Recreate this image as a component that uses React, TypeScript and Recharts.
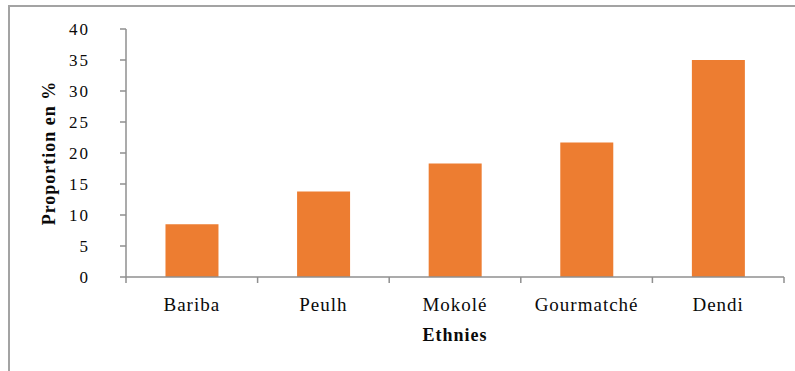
import React from "react";
import { BarChart, Bar, XAxis, YAxis } from "recharts";

const ethnies = ["Bariba", "Peulh", "Mokolé", "Gourmatché", "Dendi"];
const proportions = [8.5, 13.8, 18.3, 21.7, 35];
const yTicks = [0, 5, 10, 15, 20, 25, 30, 35, 40];

const data = ethnies.map((name, i) => ({ name, value: proportions[i] }));

const AXIS = "#8f8f8f";
const TEXT = "#0a0a0a";
const FONT = "Liberation Serif";
const X_TICK_SIZE = 6;
const X_TICK_MARGIN = 15;

// category labels, with tick marks drawn on the band boundaries (Excel style)
function CategoryTick(props: any) {
  const { x, y, payload, index, width, visibleTicksCount } = props;
  const band = width / visibleTicksCount;
  const axisY = y - X_TICK_MARGIN - X_TICK_SIZE;
  const left = x - band / 2;
  const right = x + band / 2;
  return (
    <g>
      <line x1={left} y1={axisY} x2={left} y2={axisY + X_TICK_SIZE} stroke={AXIS} strokeWidth={1.5} />
      {index === visibleTicksCount - 1 && (
        <line x1={right} y1={axisY} x2={right} y2={axisY + X_TICK_SIZE} stroke={AXIS} strokeWidth={1.5} />
      )}
      <text
        x={x}
        y={y}
        dy="0.71em"
        textAnchor="middle"
        fill={TEXT}
        fontFamily={FONT}
        fontSize={19}
        letterSpacing={1}
      >
        {payload.value}
      </text>
    </g>
  );
}

export default function App() {
  return (
    <div style={{ position: "absolute", left: 0, top: 0, width: 795, height: 371, background: "#fff" }}>
      <div
        style={{
          position: "absolute",
          left: 8,
          top: 5,
          right: 0,
          bottom: 0,
          borderTop: "2px solid #a3a3a3",
          borderLeft: "2px solid #a3a3a3",
        }}
      />
      <BarChart
        width={795}
        height={371}
        data={data}
        margin={{ top: 29, right: 11, left: 0, bottom: 0 }}
        barCategoryGap="30%"
        style={{ position: "absolute", left: 0, top: 0 }}
      >
        <XAxis
          dataKey="name"
          height={94}
          stroke={AXIS}
          strokeWidth={1.5}
          tickLine={false}
          tickSize={X_TICK_SIZE}
          tickMargin={X_TICK_MARGIN}
          tick={<CategoryTick />}
          interval={0}
          label={{
            value: "Ethnies",
            position: "insideBottom",
            offset: 30,
            fill: TEXT,
            fontFamily: FONT,
            fontSize: 18,
            fontWeight: "bold",
            letterSpacing: 1,
          }}
        />
        <YAxis
          width={126}
          domain={[0, 40]}
          ticks={yTicks}
          interval={0}
          stroke={AXIS}
          strokeWidth={1.5}
          tickSize={6}
          tickMargin={30}
          tick={{ fill: TEXT, fontFamily: FONT, fontSize: 17, letterSpacing: 2 }}
          label={{
            value: "Proportion  en %",
            angle: -90,
            position: "insideLeft",
            offset: 49,
            fill: TEXT,
            fontFamily: FONT,
            fontSize: 18,
            fontWeight: "bold",
            letterSpacing: 1,
            style: { textAnchor: "middle", whiteSpace: "pre" },
          }}
        />
        <Bar dataKey="value" fill="#ED7D31" isAnimationActive={false} />
      </BarChart>
    </div>
  );
}
